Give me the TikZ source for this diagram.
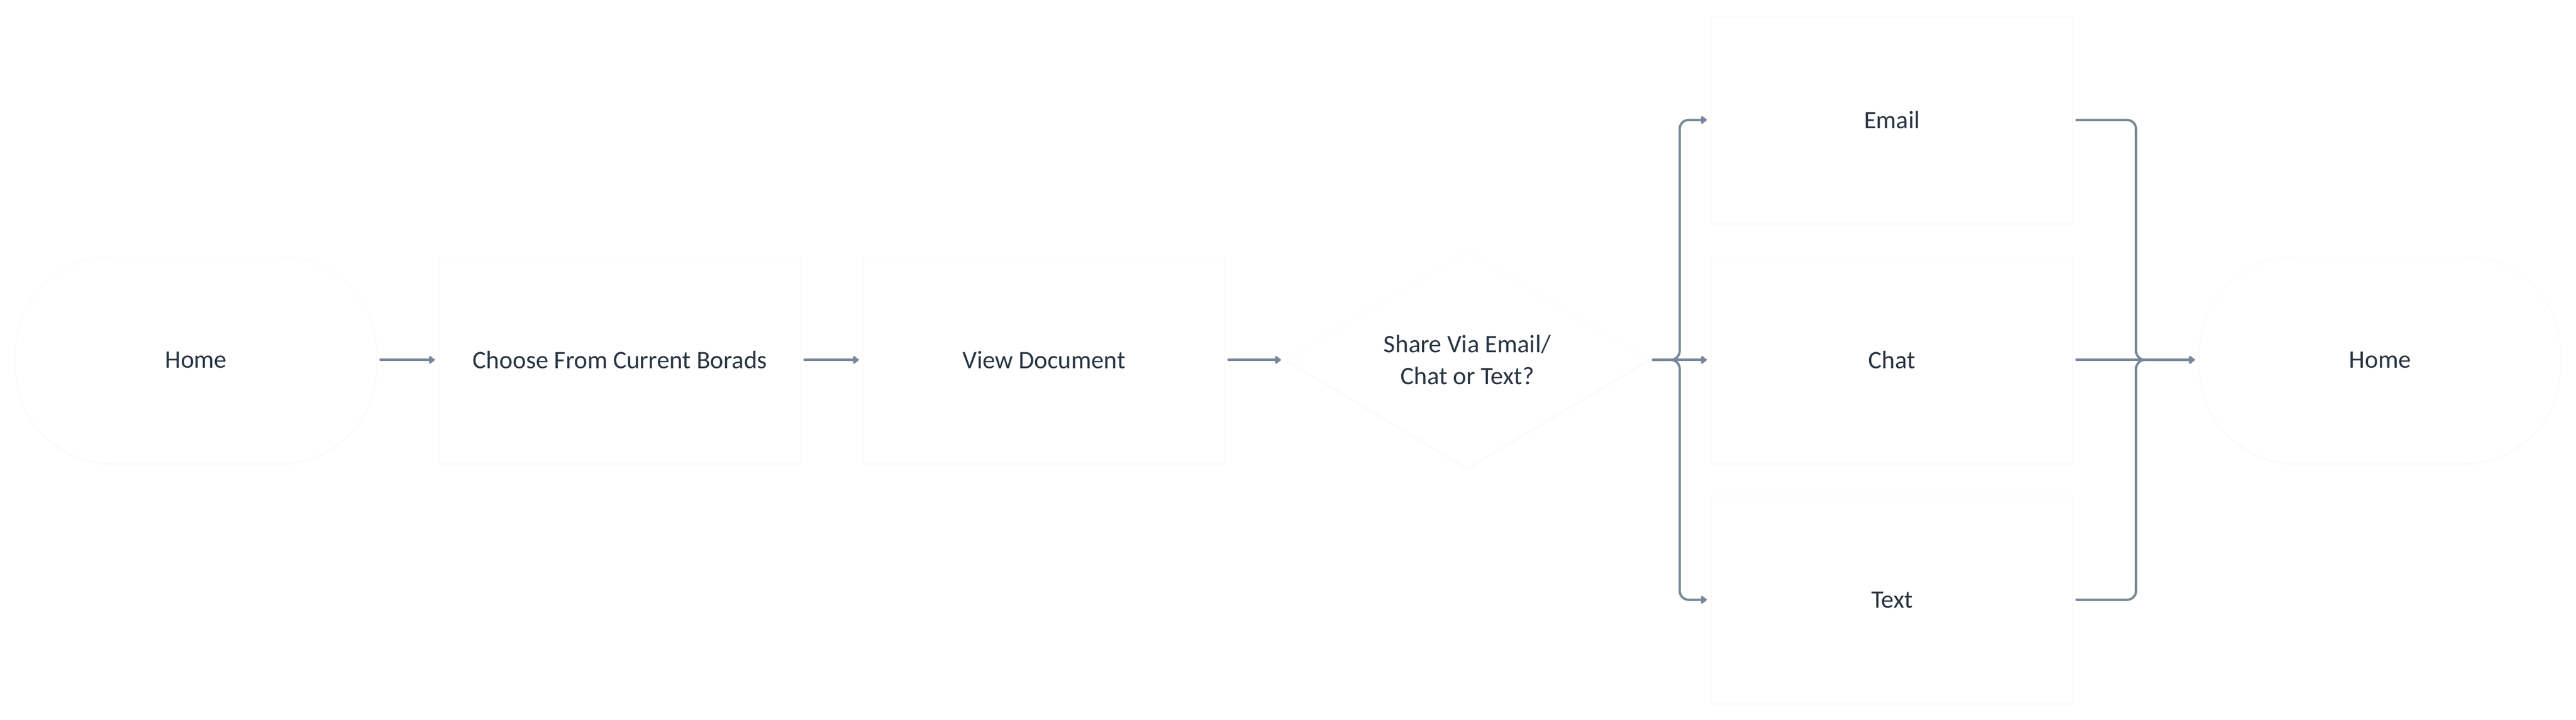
\documentclass[tikz,border=0pt]{standalone}
\usepackage{fontspec}
\setmainfont{Carlito}
\usetikzlibrary{arrows.meta,shapes.geometric,shadows}
\definecolor{linec}{RGB}{121,136,152}
\definecolor{textc}{RGB}{40,52,66}
\definecolor{edgec}{RGB}{251,251,251}

\begin{document}
\begin{tikzpicture}[
    box/.style={rectangle, fill=white, draw=edgec, line width=0.03cm,
      minimum width=10.84cm, minimum height=6.22cm, text=textc,
      font=\fontsize{21.5}{27.6}\selectfont, align=center,
      drop shadow={opacity=0.035, shadow xshift=0cm, shadow yshift=-0.05cm}},
    terminal/.style={box, rounded corners=2.9cm},
    decision/.style={box, diamond, minimum width=10.91cm, minimum height=6.24cm,
      inner sep=0pt},
    flow/.style={draw=linec, line width=0.07cm, line cap=round,
      -{Triangle[length=0.19cm,width=0.27cm,round]},
      rounded corners=0.27cm, shorten <=0.1cm, shorten >=0.12cm}
  ]
    \useasboundingbox (0,0) rectangle (77.28,21.6);

    % Main row
    \node[terminal] (home) at (5.88,10.8) {Home};
    \node[box] (boards) at (18.60,10.8) {Choose From Current Borads};
    \node[box] (view) at (31.32,10.8) {View Document};
    \node[decision] (share) at (44.02,10.8) {Share Via Email/\\Chat or Text?};

    % Options
    \node[box] (email) at (56.76,18.0) {Email};
    \node[box] (chat) at (56.76,10.8) {Chat};
    \node[box] (text) at (56.76,3.6) {Text};

    % End
    \node[terminal] (back) at (71.40,10.8) {Home};

    % Junction points
    \coordinate (split) at (50.39,10.8);
    \coordinate (merge) at (64.08,10.8);

    % Arrows
    \draw[flow] (home) -- (boards);
    \draw[flow] (boards) -- (view);
    \draw[flow] (view) -- (share);

    \draw[flow] (share.east) -- (split) |- (email.west);
    \draw[flow] (share.east) -- (chat.west);
    \draw[flow] (share.east) -- (split) |- (text.west);

    \draw[flow] (email.east) -| (merge) -- (back.west);
    \draw[flow] (chat.east) -- (back.west);
    \draw[flow] (text.east) -| (merge) -- (back.west);
  \end{tikzpicture}
\end{document}
